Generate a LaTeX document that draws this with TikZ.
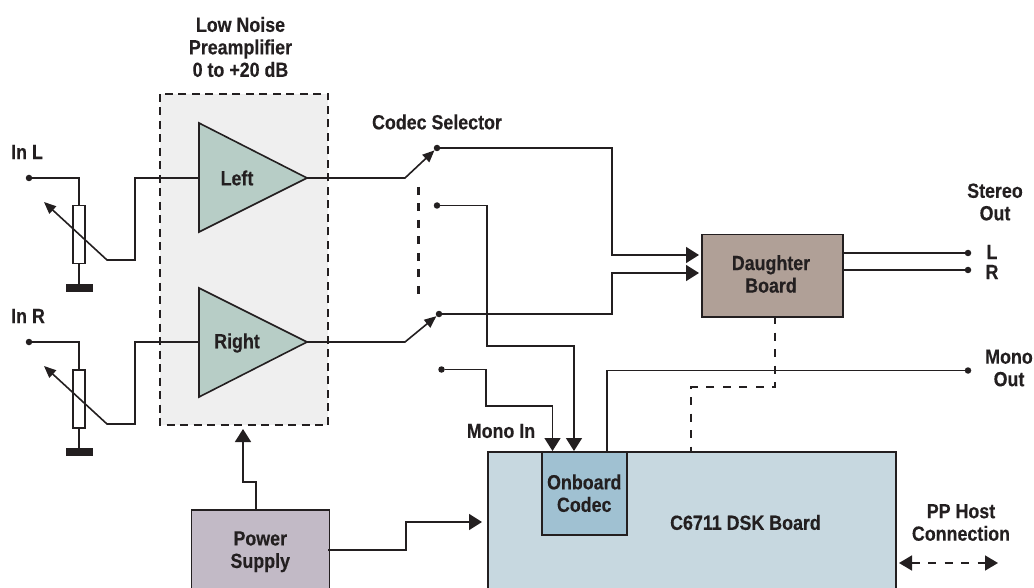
\documentclass[tikz,border=0pt]{standalone}
\usepackage{fontspec}
\setmainfont[FakeStretch=0.87, BoldFeatures={FakeStretch=0.87, FakeBold=0.3}]{Liberation Sans}
\usetikzlibrary{arrows.meta, positioning, calc}
\definecolor{inkc}{HTML}{231F20}
\definecolor{preampc}{HTML}{EFEFEF}
\definecolor{ampc}{HTML}{B7CDC6}
\definecolor{daughterc}{HTML}{B0A097}
\definecolor{dskc}{HTML}{C7D8E0}
\definecolor{codecc}{HTML}{A0C1D2}
\definecolor{powerc}{HTML}{C2BAC6}
\tikzset{
	lbl/.style={text=inkc, align=center, inner sep=0pt, font=\fontsize{20.5}{22.5}\selectfont\bfseries},
	boxnode/.style={lbl, draw=inkc, line width=1.5pt, anchor=north west, minimum width=#1},
	wire/.style={draw=inkc, line width=1.6pt},
	bigtip/.style={wire, -{Triangle[length=13pt,width=16pt]}},
	smalltip/.style={wire, -{Triangle[length=12pt,width=10pt]}},
	dashwire/.style={wire, dash pattern=on 8pt off 8.5pt},
	termdot/.style={circle, fill=inkc, inner sep=0pt, minimum size=6.5pt},
}
\begin{document}
\begin{tikzpicture}[x=1pt, y=-1pt]
	\useasboundingbox (0, 0) rectangle (1034, 588);
	\clip (0, 0) rectangle (1034, 588);
	
	% Preamplifier area
	\fill[preampc] (160, 94) rectangle (328, 425);
	\draw[wire, dash pattern=on 8pt off 5.5pt] (160, 94) rectangle (328, 425);
	\node[lbl] (preamp) at (240.5, 47) {Low Noise\\Preamplifier\\0 to +20 dB};
	
	% Blocks
	\node[boxnode=141pt, fill=daughterc, minimum height=82pt] (daughter) at (701, 234) {};
	\node[lbl] (daughterlabel) at (771, 274) {Daughter\\Board};
	\node[boxnode=408pt, fill=dskc, minimum height=160pt] (dsk) at (487, 451) {};
	\node[lbl] (dsklabel) at (745.5, 522.5) {C6711 DSK Board};
	\node[boxnode=85pt, fill=codecc, minimum height=83pt] (codec) at (541, 451) {Onboard\\Codec};
	\node[boxnode=138pt, fill=powerc, minimum height=84pt] (power) at (190.5, 509) {Power\\Supply};
	
	% Amplifiers
	\coordinate (ampoutL) at (307, 178);
	\coordinate (ampoutR) at (307, 342);
	\coordinate (ampinL) at (199, 178);
	\coordinate (ampinR) at (199, 342);
	\filldraw[wire, fill=ampc] (199, 123) -- (199, 232) -- (ampoutL) -- cycle;
	\filldraw[wire, fill=ampc] (199, 288) -- (199, 397) -- (ampoutR) -- cycle;
	\node[lbl] (leftlabel) at (237, 178) {Left};
	\node[lbl] (rightlabel) at (237, 343) {Right};
	
	% Inputs with level controls
	\foreach \name/\ya/\yr/\txt in {L/178/205/In L, R/342/369/In R} {
		\node[termdot] (in\name) at (29, \ya) {};
		\node[lbl, anchor=west] (inlabel\name) at (11, \ya-26) {\txt};
		\node[draw=inkc, fill=white, line width=1.5pt, minimum width=12pt, minimum height=58pt, inner sep=0pt, anchor=north] (pot\name) at (79, \yr) {};
		\node[fill=inkc, minimum width=27pt, minimum height=8pt, inner sep=0pt, anchor=north] (gnd\name) at (79, \yr+79) {};
		\draw[wire] (in\name) -| (pot\name.north);
		\draw[wire] (pot\name.south) -- (gnd\name.north);
		\draw[smalltip] (ampin\name) -- (135, \ya) -- (135, \yr+55) -- (107, \yr+55) -- (44, \yr-3);
	}
	
	% Selector contacts
	\node[termdot] (leftTop) at (437, 148) {};
	\node[termdot] (leftBot) at (437, 205.5) {};
	\node[termdot] (rightTop) at (439, 314) {};
	\node[termdot] (rightBot) at (441.5, 369.5) {};
	\node[lbl] (selector) at (437, 122) {Codec Selector};
	\draw[smalltip] (ampoutL) -- (405, 178) -- (leftTop);
	\draw[smalltip] (ampoutR) -- (405, 342) -- (rightTop);
	\draw[dashwire, line width=3pt] (418, 187) -- (418, 297);
	
	% Signal paths
	\coordinate (daughterA) at (699, 255);
	\coordinate (daughterB) at (699, 273);
	\draw[bigtip] (leftTop) -- (612, 148) -- (612, 255) -- (daughterA);
	\draw[bigtip] (rightTop) -- (612, 314) -- (612, 273) -- (daughterB);
	\draw[bigtip] (leftBot) -- (487, 205.5) -- (487, 346) -- (574, 346) -- (574, 451);
	\draw[bigtip] (rightBot) -- (486, 369.5) -- (486, 406) -- (552.5, 406) -- (552.5, 451);
	\node[lbl] (monoin) at (501, 431) {Mono In};
	
	% Outputs
	\node[termdot] (outL) at (968, 253) {};
	\node[termdot] (outR) at (968, 270) {};
	\node[termdot] (outM) at (968, 370.5) {};
	\draw[wire] (daughter.east |- outL) -- (outL);
	\draw[wire] (daughter.east |- outR) -- (outR);
	\draw[wire] (607, 451) -- (607, 370.5) -- (outM);
	\node[lbl] (stereo) at (995, 202) {Stereo\\Out};
	\node[lbl] (lL) at (992, 252) {L};
	\node[lbl] (lR) at (992, 272) {R};
	\node[lbl] (mono) at (1009, 368) {Mono\\Out};
	\draw[dashwire] (775, 316) -- (775, 387) -- (691, 387) -- (691, 451);
	
	% Power and host
	\draw[bigtip] (256, 509) -- (256, 482) -- (243, 482) -- (243, 429);
	\draw[bigtip] (328, 550) -- (406, 550) -- (406, 522) -- (482, 522);
	\node[lbl] (pphost) at (961, 522.5) {PP Host\\Connection};
	\coordinate (hostL) at (899, 563);
	\coordinate (hostR) at (998, 563);
	\draw[dashwire, {Triangle[length=13pt,width=15pt]}-{Triangle[length=13pt,width=15pt]}] (hostL) -- (hostR);
\end{tikzpicture}
\end{document}
